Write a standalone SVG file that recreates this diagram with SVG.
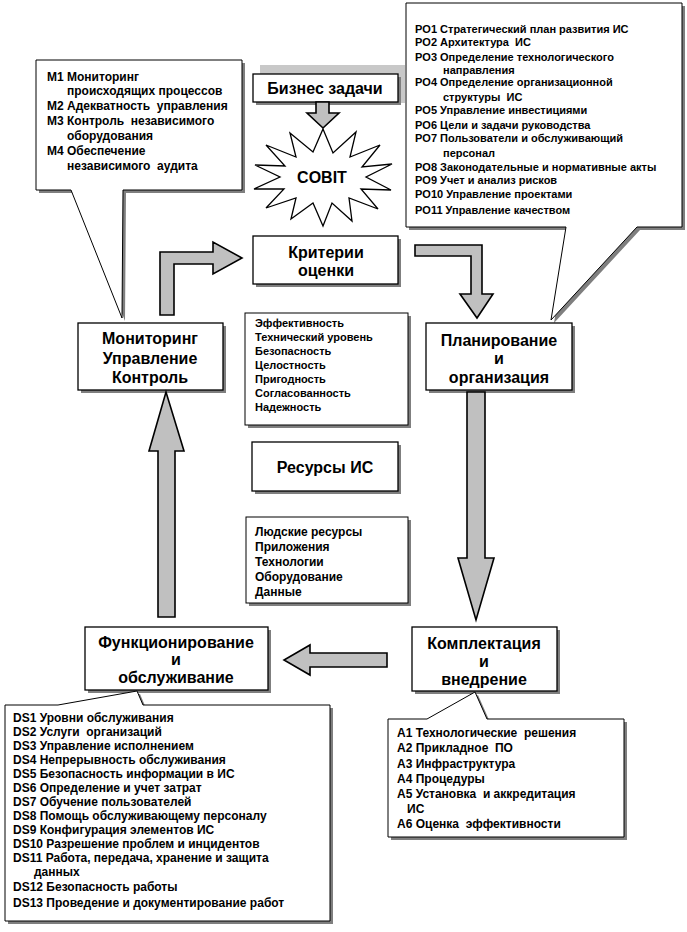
<svg xmlns="http://www.w3.org/2000/svg" width="687" height="932" viewBox="0 0 687 932">
<style>
text{white-space:pre}
.bg{fill:#fff}
.box{fill:#fff;stroke:#000;stroke-width:1.3}
.thin{fill:#fff;stroke:#000;stroke-width:1}
.sh{fill:#7f7f7f}
.arr{fill:#c0c0c0;stroke:#000;stroke-width:1.6;stroke-linejoin:miter}
.h{font-family:"Liberation Sans",Arial,sans-serif;font-weight:bold;font-size:16px;text-anchor:middle;fill:#000}
.s{font-family:"Liberation Sans",Arial,sans-serif;font-weight:bold;font-size:11px;fill:#000}
.m{font-family:"Liberation Sans",Arial,sans-serif;font-weight:bold;font-size:12px;fill:#000}
</style>
<rect class="bg" x="0" y="0" width="687" height="932"/>
<g id="callout-monitoring">
<path class="sh" transform="translate(3,3)" d="M36,60 H242 V190 H123 L122,318 L71,190 H36 Z"/>
<path class="thin" d="M36,60 H242 V190 H123 L122,318 L71,190 H36 Z"/>
<text class="m" x="47" y="81">M1 Мониторинг</text>
<text class="m" x="67" y="95">происходящих процессов</text>
<text class="m" x="47" y="110">M2 Адекватность  управления</text>
<text class="m" x="47" y="125">M3 Контроль  независимого</text>
<text class="m" x="67" y="140">оборудования</text>
<text class="m" x="47" y="155">M4 Обеспечение</text>
<text class="m" x="67" y="170">независимого  аудита</text>
</g>
<g id="callout-planning">
<path class="sh" transform="translate(3,3)" d="M406,3 H682 V227 H637 L551,320 L566,227 H406 Z"/>
<path class="thin" d="M406,3 H682 V227 H637 L551,320 L566,227 H406 Z"/>
<text class="s" x="415" y="33">PO1 Стратегический план развития ИС</text>
<text class="s" x="415" y="46">PO2 Архитектура  ИС</text>
<text class="s" x="415" y="61">PO3 Определение технологического</text>
<text class="s" x="443" y="74">направления</text>
<text class="s" x="415" y="86">PO4 Определение организационной</text>
<text class="s" x="443" y="101">структуры  ИС</text>
<text class="s" x="415" y="114">PO5 Управление инвестициями</text>
<text class="s" x="415" y="129">PO6 Цели и задачи руководства</text>
<text class="s" x="415" y="142">PO7 Пользователи и обслуживающий</text>
<text class="s" x="443" y="157">персонал</text>
<text class="s" x="415" y="171">PO8 Законодательные и нормативные акты</text>
<text class="s" x="415" y="184">PO9 Учет и анализ рисков</text>
<text class="s" x="415" y="198">PO10 Управление проектами</text>
<text class="s" x="415" y="214">PO11 Управление качеством</text>
</g>
<g id="business">
<rect x="260" y="65" width="145" height="38" fill="#c8c8c8"/>
<rect class="sh" x="256" y="77" width="145" height="28"/>
<rect class="box" x="253" y="74" width="145" height="28"/>
<text class="h" x="325" y="94">Бизнес задачи</text>
</g>
<g id="cobit">
<polygon class="box" points="323,129 333,153 356,132 350,157 380,145 362,167 392,164 366,177 391,190 361,189 378,209 349,198 352,221 332,203 323,226 313,203 291,219 296,198 266,208 284,189 254,189 280,177 255,165 285,166 266,145 296,157 290,133 313,152"/>
<text class="h" x="322" y="183">COBIT</text>
</g>
<g id="criteria">
<rect class="sh" x="256" y="239" width="145" height="48"/>
<rect class="box" x="253" y="236" width="145" height="48"/>
<text class="h" x="326" y="258">Критерии</text>
<text class="h" x="326" y="276">оценки</text>
</g>
<g id="criteria-list">
<rect class="sh" x="248" y="316" width="163" height="112"/>
<rect class="thin" x="245" y="313" width="163" height="112"/>
<text class="s" x="255" y="327">Эффективность</text>
<text class="s" x="255" y="341">Технический уровень</text>
<text class="s" x="255" y="355">Безопасность</text>
<text class="s" x="255" y="369">Целостность</text>
<text class="s" x="255" y="383">Пригодность</text>
<text class="s" x="255" y="397">Согласованность</text>
<text class="s" x="255" y="411">Надежность</text>
</g>
<g id="monitoring">
<rect class="sh" x="81" y="326" width="145" height="67"/>
<rect class="box" x="78" y="323" width="145" height="67"/>
<text class="h" x="150" y="344">Мониторинг</text>
<text class="h" x="150" y="364">Управление</text>
<text class="h" x="150" y="383">Контроль</text>
</g>
<g id="planning">
<rect class="sh" x="429" y="326" width="146" height="67"/>
<rect class="box" x="426" y="323" width="146" height="67"/>
<text class="h" x="499" y="346">Планирование</text>
<text class="h" x="499" y="364">и</text>
<text class="h" x="499" y="383">организация</text>
</g>
<g id="resources">
<rect class="sh" x="255" y="445" width="146" height="49"/>
<rect class="box" x="252" y="442" width="146" height="49"/>
<text class="h" x="325" y="473">Ресурсы ИС</text>
</g>
<g id="resources-list">
<rect class="sh" x="249" y="520" width="162" height="86"/>
<rect class="thin" x="246" y="517" width="162" height="86"/>
<text class="m" x="255" y="536">Людские ресурсы</text>
<text class="m" x="255" y="551">Приложения</text>
<text class="m" x="255" y="566">Технологии</text>
<text class="m" x="255" y="581">Оборудование</text>
<text class="m" x="255" y="596">Данные</text>
</g>
<g id="operation">
<rect class="sh" x="88" y="630" width="183" height="63"/>
<rect class="box" x="85" y="627" width="183" height="63"/>
<text class="h" x="176" y="648">Функционирование</text>
<text class="h" x="176" y="665">и</text>
<text class="h" x="176" y="683">обслуживание</text>
</g>
<g id="acquisition">
<rect class="sh" x="415" y="630" width="145" height="64"/>
<rect class="box" x="412" y="627" width="145" height="64"/>
<text class="h" x="484" y="649">Комплектация</text>
<text class="h" x="484" y="667">и</text>
<text class="h" x="484" y="685">внедрение</text>
</g>
<g id="callout-operation">
<path class="sh" transform="translate(3,3)" d="M5,705 H58 L137,691 L143,705 H330 V921 H5 Z"/>
<path class="thin" d="M5,705 H58 L137,691 L143,705 H330 V921 H5 Z"/>
<text class="m" x="13" y="722">DS1 Уровни обслуживания</text>
<text class="m" x="13" y="736">DS2 Услуги  организаций</text>
<text class="m" x="13" y="750">DS3 Управление исполнением</text>
<text class="m" x="13" y="764">DS4 Непрерывность обслуживания</text>
<text class="m" x="13" y="778">DS5 Безопасность информации в ИС</text>
<text class="m" x="13" y="792">DS6 Определение и учет затрат</text>
<text class="m" x="13" y="806">DS7 Обучение пользователей</text>
<text class="m" x="13" y="820">DS8 Помощь обслуживающему персоналу</text>
<text class="m" x="13" y="834">DS9 Конфигурация элементов ИС</text>
<text class="m" x="13" y="848">DS10 Разрешение проблем и инцидентов</text>
<text class="m" x="13" y="862">DS11 Работа, передача, хранение и защита</text>
<text class="m" x="34" y="876">данных</text>
<text class="m" x="13" y="891">DS12 Безопасность работы</text>
<text class="m" x="13" y="907">DS13 Проведение и документирование работ</text>
</g>
<g id="callout-acquisition">
<path class="sh" transform="translate(3,3)" d="M388,719 H427 L475,692 L487,719 H624 V837 H388 Z"/>
<path class="thin" d="M388,719 H427 L475,692 L487,719 H624 V837 H388 Z"/>
<text class="m" x="397" y="737">A1 Технологические  решения</text>
<text class="m" x="397" y="752">A2 Прикладное  ПО</text>
<text class="m" x="397" y="768">A3 Инфраструктура</text>
<text class="m" x="397" y="783">A4 Процедуры</text>
<text class="m" x="397" y="798">A5 Установка  и аккредитация</text>
<text class="m" x="407" y="813">ИС</text>
<text class="m" x="397" y="828">A6 Оценка  эффективности</text>
</g>
<g id="connectors">
<polygon class="arr" points="316,102 329,102 329,113 339,113 323,128 307,113 316,113"/>
<polygon class="arr" points="160,315 160,252 213,252 213,242 242,258 213,274 213,264 174,264 174,315"/>
<polygon class="arr" points="415,245 482,245 482,294 493,294 477,318 460,294 471,294 471,256 415,256"/>
<polygon class="arr" points="467,392 485,392 485,558 494,558 476,620 458,558 467,558"/>
<polygon class="arr" points="387,653 387,667 310,667 310,675 284,660 310,645 310,653"/>
<polygon class="arr" points="158,617 175,617 175,451 184,451 166,392 149,451 158,451"/>
</g>
</svg>
